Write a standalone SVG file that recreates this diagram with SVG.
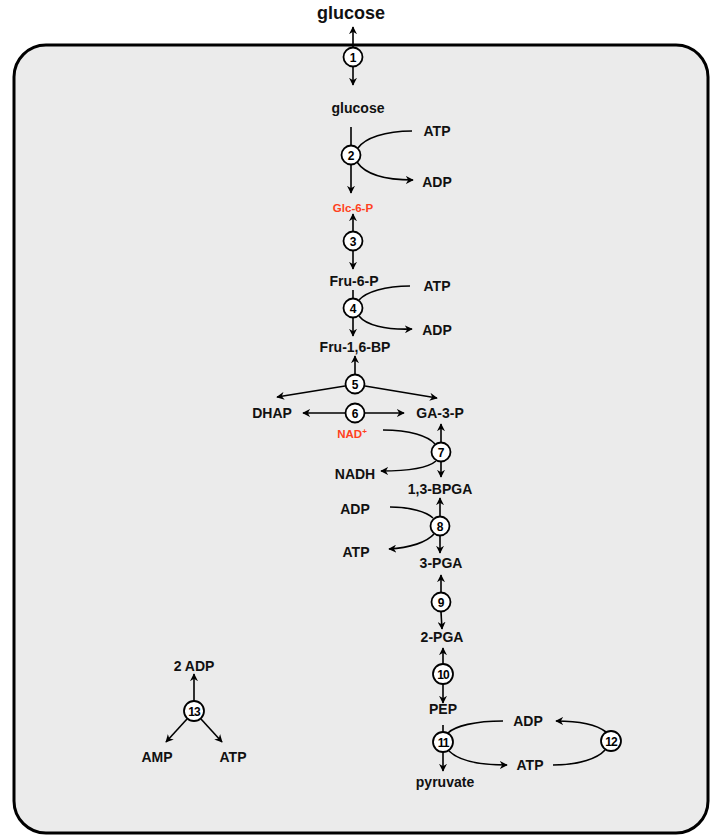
<svg xmlns="http://www.w3.org/2000/svg" width="712" height="835" viewBox="0 0 712 835">
<defs>
<marker id="ah" viewBox="0 0 10 10" refX="9" refY="5" markerWidth="8" markerHeight="8" markerUnits="userSpaceOnUse" orient="auto">
<path d="M0,0 L10,5 L0,10 L3,5 Z" fill="#000"/>
</marker>
<style>
.t{font-family:"Liberation Sans",Arial,sans-serif;font-weight:bold;font-size:14px;fill:#111;text-anchor:middle}
.r{fill:#ff4020;font-size:11.5px}
.n{font-family:"Liberation Sans",Arial,sans-serif;font-weight:bold;font-size:12px;fill:#000;text-anchor:middle}
.c{fill:#fff;stroke:#000;stroke-width:1.8}
.l{fill:none;stroke:#000;stroke-width:1.6}
.a{fill:none;stroke:#000;stroke-width:1.6;marker-end:url(#ah)}
</style>
</defs>
<rect x="0" y="0" width="712" height="835" fill="#fff"/>
<rect id="cell" x="14" y="45" width="694" height="788" rx="32" ry="32" fill="#ebebeb" stroke="#000" stroke-width="3"/>

<g id="connectors">
<line class="a" x1="353" y1="47" x2="353" y2="27"/>
<line class="a" x1="353" y1="67" x2="353" y2="85"/>
<line class="l" x1="351" y1="127" x2="351" y2="145"/>
<line class="a" x1="351" y1="165" x2="351" y2="193"/>
<path class="l" d="M412,131 C385,131 365,138 358,148"/>
<path class="a" d="M357,162 C365,174 385,180 413,180"/>
<line class="a" x1="353" y1="231" x2="353" y2="214"/>
<line class="a" x1="353" y1="251" x2="353" y2="269"/>
<line class="l" x1="353" y1="290" x2="353" y2="298"/>
<line class="a" x1="353" y1="318" x2="353" y2="336"/>
<path class="l" d="M410,286 C385,286 366,292 359,300"/>
<path class="a" d="M359,316 C366,325 385,330 412,329"/>
<line class="a" x1="355" y1="374" x2="355" y2="356"/>
<line class="a" x1="345" y1="386" x2="277" y2="397"/>
<line class="a" x1="365" y1="386" x2="437" y2="398"/>
<line class="a" x1="345" y1="413" x2="303" y2="413"/>
<line class="a" x1="365" y1="413" x2="404" y2="413"/>
<path class="l" d="M383,430 C410,430 428,436 435,444"/>
<line class="a" x1="441" y1="442" x2="441" y2="424"/>
<line class="a" x1="441" y1="462" x2="441" y2="477"/>
<path class="a" d="M436,461 C428,468 410,471 381,471"/>
<path class="l" d="M390,507 C410,507 427,512 433,518"/>
<path class="a" d="M434,534 C427,542 410,548 389,549"/>
<line class="a" x1="440" y1="516" x2="440" y2="498"/>
<line class="a" x1="440" y1="536" x2="440" y2="553"/>
<line class="a" x1="441" y1="592" x2="441" y2="575"/>
<line class="a" x1="441" y1="612" x2="442" y2="629"/>
<line class="a" x1="443" y1="664" x2="443" y2="648"/>
<line class="a" x1="443" y1="684" x2="443" y2="703"/>
<line class="l" x1="443" y1="725" x2="443" y2="732"/>
<line class="a" x1="443" y1="752" x2="443" y2="771"/>
<path class="l" d="M503,721 C475,721 455,726 448,733"/>
<path class="a" d="M449,751 C458,760 478,765 507,765"/>
<path class="a" d="M606,732 C597,725 580,721 556,721"/>
<path class="l" d="M553,765 C580,765 598,758 605,750"/>
<line class="a" x1="194" y1="701" x2="194" y2="674"/>
<line class="a" x1="187" y1="719" x2="166" y2="742"/>
<line class="a" x1="201" y1="719" x2="222" y2="742"/>
</g>

<g id="labels">
<text class="t" x="351" y="19" style="font-size:18px">glucose</text>
<text class="t" x="358" y="113">glucose</text>
<text class="t" x="437" y="136">ATP</text>
<text class="t" x="437" y="187">ADP</text>
<text class="t r" x="353" y="212">Glc-6-P</text>
<text class="t" x="354" y="286">Fru-6-P</text>
<text class="t" x="437" y="291">ATP</text>
<text class="t" x="437" y="335">ADP</text>
<text class="t" x="355" y="352">Fru-1,6-BP</text>
<text class="t" x="272" y="418">DHAP</text>
<text class="t" x="440" y="418">GA-3-P</text>
<text class="t r" x="352" y="438">NAD<tspan font-size="8" dy="-4">+</tspan></text>
<text class="t" x="355" y="479">NADH</text>
<text class="t" x="440" y="494">1,3-BPGA</text>
<text class="t" x="355" y="514">ADP</text>
<text class="t" x="356" y="557">ATP</text>
<text class="t" x="441" y="568">3-PGA</text>
<text class="t" x="442" y="642">2-PGA</text>
<text class="t" x="443" y="714">PEP</text>
<text class="t" x="445" y="787">pyruvate</text>
<text class="t" x="528" y="726">ADP</text>
<text class="t" x="530" y="770">ATP</text>
<text class="t" x="194" y="671">2 ADP</text>
<text class="t" x="157" y="762">AMP</text>
<text class="t" x="233" y="762">ATP</text>
</g>

<g id="e1"><circle class="c" cx="353" cy="57" r="9.5"/><text class="n" x="353" y="61.5">1</text></g>
<g id="e2"><circle class="c" cx="351" cy="155" r="9.5"/><text class="n" x="351" y="159.5">2</text></g>
<g id="e3"><circle class="c" cx="353" cy="241" r="9.5"/><text class="n" x="353" y="245.5">3</text></g>
<g id="e4"><circle class="c" cx="353" cy="308" r="9.5"/><text class="n" x="353" y="312.5">4</text></g>
<g id="e5"><circle class="c" cx="355" cy="384" r="9.5"/><text class="n" x="355" y="388.5">5</text></g>
<g id="e6"><circle class="c" cx="355" cy="413" r="9.5"/><text class="n" x="355" y="417.5">6</text></g>
<g id="e7"><circle class="c" cx="441" cy="452" r="9.5"/><text class="n" x="441" y="456.5">7</text></g>
<g id="e8"><circle class="c" cx="440" cy="526" r="9.5"/><text class="n" x="440" y="530.5">8</text></g>
<g id="e9"><circle class="c" cx="441" cy="602" r="9.5"/><text class="n" x="441" y="606.5">9</text></g>
<g id="e10"><circle class="c" cx="443" cy="674" r="10"/><text class="n" x="443" y="678.5" style="letter-spacing:-1px">10</text></g>
<g id="e11"><circle class="c" cx="443" cy="742" r="10"/><text class="n" x="443" y="746.5" style="letter-spacing:-1px">11</text></g>
<g id="e12"><circle class="c" cx="611" cy="741" r="10"/><text class="n" x="611" y="745.5" style="letter-spacing:-1px">12</text></g>
<g id="e13"><circle class="c" cx="194" cy="711" r="10"/><text class="n" x="194" y="715.5" style="letter-spacing:-1px">13</text></g>
</svg>
